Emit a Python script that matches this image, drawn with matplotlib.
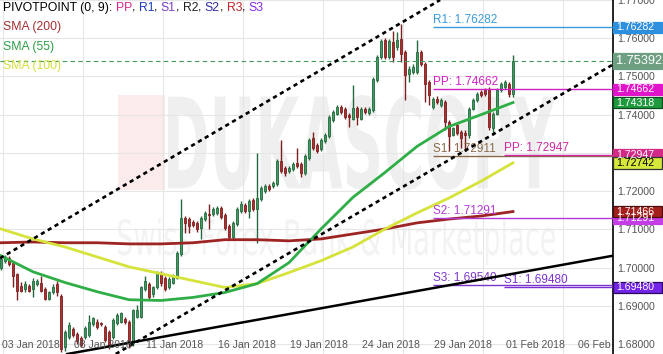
import matplotlib
matplotlib.use("agg")
import matplotlib.pyplot as plt
from matplotlib.transforms import blended_transform_factory, Affine2D, IdentityTransform
from matplotlib.textpath import TextPath
from matplotlib.font_manager import FontProperties
from matplotlib.patches import PathPatch, Rectangle
import numpy as np

plt.rcParams["font.family"] = "Liberation Sans"

# 4h candles, 02 Jan .. 31 Jan 2018
opens = [
    1.7000, 1.7018, 1.7026, 1.7013, 1.6982, 1.6953, 1.6943, 1.6953, 1.6943, 1.6958,
    1.6961, 1.6945, 1.6919, 1.6935, 1.6956, 1.6927, 1.6792, 1.6818, 1.6839, 1.6826,
    1.6815, 1.6818, 1.6823, 1.6852, 1.6859, 1.6854, 1.6844, 1.6831, 1.6818, 1.6854,
    1.6859, 1.6865, 1.6857, 1.6802, 1.6872, 1.6872, 1.6945, 1.6958, 1.6930, 1.6948,
    1.6987, 1.6974, 1.6948, 1.6961, 1.6974, 1.7036, 1.7130, 1.7127, 1.7119, 1.7117,
    1.7104, 1.7127, 1.7140, 1.7140, 1.7143, 1.7156, 1.7138, 1.7109, 1.7080, 1.7114,
    1.7148, 1.7164, 1.7148, 1.7177, 1.7153, 1.7179, 1.7200, 1.7213, 1.7213, 1.7218,
    1.7278, 1.7260, 1.7252, 1.7257, 1.7273, 1.7270, 1.7247, 1.7286, 1.7338, 1.7322,
    1.7309, 1.7330, 1.7343, 1.7387, 1.7403, 1.7421, 1.7416, 1.7400, 1.7390, 1.7418,
    1.7390, 1.7416, 1.7405, 1.7413, 1.7491, 1.7551, 1.7595, 1.7551, 1.7590, 1.7577,
    1.7598, 1.7564, 1.7507, 1.7512, 1.7512, 1.7564, 1.7533, 1.7486, 1.7421, 1.7442,
    1.7426, 1.7434, 1.7382, 1.7348, 1.7372, 1.7356, 1.7353, 1.7346, 1.7416, 1.7439,
    1.7460, 1.7465, 1.7468, 1.7364, 1.7403, 1.7465, 1.7473, 1.7481, 1.7455]
highs = [
    1.7031, 1.7034, 1.7031, 1.7018, 1.6987, 1.6963, 1.6966, 1.6958, 1.6974, 1.6971,
    1.6979, 1.6950, 1.6940, 1.6956, 1.6966, 1.6932, 1.6836, 1.6859, 1.6844, 1.6831,
    1.6820, 1.6846, 1.6875, 1.6872, 1.6865, 1.6859, 1.6849, 1.6836, 1.6867, 1.6880,
    1.6885, 1.6870, 1.6862, 1.6893, 1.6901, 1.6953, 1.6979, 1.6963, 1.6953, 1.6992,
    1.6992, 1.6979, 1.6976, 1.6984, 1.7044, 1.7179, 1.7135, 1.7132, 1.7125, 1.7122,
    1.7135, 1.7148, 1.7166, 1.7158, 1.7161, 1.7161, 1.7143, 1.7114, 1.7122, 1.7158,
    1.7174, 1.7169, 1.7179, 1.7182, 1.7299, 1.7213, 1.7218, 1.7218, 1.7226, 1.7283,
    1.7335, 1.7265, 1.7265, 1.7275, 1.7312, 1.7275, 1.7296, 1.7340, 1.7356, 1.7327,
    1.7340, 1.7353, 1.7400, 1.7413, 1.7426, 1.7426, 1.7421, 1.7405, 1.7478, 1.7424,
    1.7421, 1.7421, 1.7421, 1.7499, 1.7556, 1.7598, 1.7600, 1.7598, 1.7619, 1.7616,
    1.7637, 1.7569, 1.7528, 1.7533, 1.7595, 1.7569, 1.7538, 1.7491, 1.7447, 1.7450,
    1.7444, 1.7439, 1.7387, 1.7369, 1.7377, 1.7361, 1.7359, 1.7421, 1.7444, 1.7460,
    1.7465, 1.7470, 1.7473, 1.7408, 1.7470, 1.7486, 1.7491, 1.7486, 1.7556]
lows = [
    1.6995, 1.7013, 1.7005, 1.6948, 1.6914, 1.6935, 1.6937, 1.6935, 1.6922, 1.6953,
    1.6935, 1.6914, 1.6914, 1.6930, 1.6927, 1.6779, 1.6781, 1.6813, 1.6818, 1.6800,
    1.6792, 1.6813, 1.6818, 1.6846, 1.6839, 1.6846, 1.6805, 1.6787, 1.6813, 1.6849,
    1.6854, 1.6852, 1.6789, 1.6794, 1.6867, 1.6867, 1.6940, 1.6914, 1.6924, 1.6943,
    1.6953, 1.6940, 1.6943, 1.6956, 1.6969, 1.7031, 1.7091, 1.7091, 1.7106, 1.7093,
    1.7075, 1.7122, 1.7101, 1.7135, 1.7138, 1.7127, 1.7099, 1.7075, 1.7075, 1.7109,
    1.7143, 1.7143, 1.7130, 1.7148, 1.7065, 1.7174, 1.7195, 1.7200, 1.7208, 1.7213,
    1.7247, 1.7239, 1.7247, 1.7252, 1.7260, 1.7236, 1.7242, 1.7281, 1.7307, 1.7299,
    1.7304, 1.7325, 1.7338, 1.7382, 1.7398, 1.7403, 1.7390, 1.7369, 1.7385, 1.7374,
    1.7385, 1.7403, 1.7400, 1.7408, 1.7486, 1.7546, 1.7546, 1.7546, 1.7538, 1.7569,
    1.7538, 1.7439, 1.7486, 1.7507, 1.7507, 1.7528, 1.7434, 1.7426, 1.7416, 1.7429,
    1.7421, 1.7361, 1.7304, 1.7343, 1.7348, 1.7312, 1.7304, 1.7340, 1.7411, 1.7434,
    1.7447, 1.7450, 1.7361, 1.7348, 1.7398, 1.7460, 1.7468, 1.7447, 1.7447]
closes = [
    1.7023, 1.7028, 1.7010, 1.6979, 1.6940, 1.6940, 1.6958, 1.6940, 1.6966, 1.6966,
    1.6940, 1.6919, 1.6935, 1.6950, 1.6935, 1.6787, 1.6831, 1.6849, 1.6823, 1.6807,
    1.6797, 1.6841, 1.6857, 1.6867, 1.6844, 1.6852, 1.6810, 1.6797, 1.6862, 1.6875,
    1.6880, 1.6857, 1.6802, 1.6888, 1.6888, 1.6948, 1.6966, 1.6922, 1.6948, 1.6987,
    1.6961, 1.6945, 1.6971, 1.6979, 1.7039, 1.7130, 1.7117, 1.7109, 1.7112, 1.7101,
    1.7130, 1.7143, 1.7138, 1.7153, 1.7156, 1.7132, 1.7104, 1.7080, 1.7117, 1.7153,
    1.7166, 1.7148, 1.7174, 1.7153, 1.7182, 1.7208, 1.7213, 1.7205, 1.7221, 1.7278,
    1.7252, 1.7247, 1.7260, 1.7270, 1.7265, 1.7247, 1.7291, 1.7335, 1.7312, 1.7304,
    1.7335, 1.7348, 1.7395, 1.7408, 1.7421, 1.7408, 1.7395, 1.7395, 1.7418, 1.7395,
    1.7416, 1.7408, 1.7416, 1.7494, 1.7551, 1.7593, 1.7551, 1.7593, 1.7551, 1.7595,
    1.7559, 1.7504, 1.7520, 1.7525, 1.7564, 1.7533, 1.7481, 1.7452, 1.7442, 1.7434,
    1.7439, 1.7382, 1.7343, 1.7364, 1.7353, 1.7340, 1.7346, 1.7416, 1.7439, 1.7455,
    1.7452, 1.7455, 1.7369, 1.7403, 1.7465, 1.7481, 1.7486, 1.7455, 1.75392]

# moving averages read every 8 candles
ma_x = list(range(0, 129, 8))
sma200 = [1.7065, 1.7067, 1.7065, 1.7065, 1.7062, 1.7062, 1.7065, 1.7073, 1.7073,
          1.7070, 1.7075, 1.7088, 1.7101, 1.7117, 1.7127, 1.7135, 1.71466]
sma55 = [1.7031, 1.6989, 1.6961, 1.6937, 1.6916, 1.6914, 1.6922, 1.6935, 1.6958,
         1.7013, 1.7101, 1.7184, 1.7249, 1.7317, 1.7369, 1.7400, 1.74318]
sma100 = [1.7101, 1.7075, 1.7054, 1.7028, 1.7002, 1.6984, 1.6966, 1.6948, 1.6958,
          1.6987, 1.7018, 1.7054, 1.7101, 1.7143, 1.7182, 1.7226, 1.72742]

# trend lines, two anchor points each (candle index, price)
upper_channel = [(0, 1.7026), (100, 1.7640)]
lower_channel = [(30, 1.6782), (128, 1.7379)]
support_line = [(33, 1.6805), (128, 1.6984)]

pivots_a_start = 108
pivots_a = [("R1", 1.76282, "#3b9bd8"), ("PP", 1.74662, "#d11fc4"),
            ("S1", 1.72911, "#8a6a48"), ("S2", 1.71291, "#b23ad4"),
            ("S3", 1.69540, "#7a36c8")]
pivots_b_start = 125.75
pivots_b = [("PP", 1.72947, "#cf2aa4"), ("S1", 1.69480, "#7b30d6")]

last_price = 1.75392
price_ticks = [1.68, 1.69, 1.70, 1.71, 1.72, 1.73, 1.74, 1.75, 1.76, 1.77]
date_labels = ["03 Jan 2018", "08 Jan 2018", "11 Jan 2018", "16 Jan 2018",
               "19 Jan 2018", "24 Jan 2018", "29 Jan 2018", "01 Feb 2018",
               "06 Feb 2018"]
date_pos = [7.5, 25.5, 43.5, 61.5, 79.5, 97.5, 115.5, 133.5, 151.5]
grid_x = [0.5, 20.5, 40.5, 60.5, 80.5, 100.5, 120.5, 140.5]

# price tags on the right axis (drawn in this order): value, fill, text, edge, size
tags = [(1.76282, "#2f8fdf", "white", "#2f8fdf", 7.6),
        (1.75392, "#6f9f82", "white", "#6f9f82", 9.2),
        (1.74662, "#e014c8", "white", "#e014c8", 7.6),
        (1.74318, "#1f9a3e", "white", "#0d4a1c", 7.6),
        (1.72947, "#d22a86", "white", "#d22a86", 7.6),
        (1.72742, "#d6e83c", "black", "#333333", 7.6),
        (1.71291, "#c43ee6", "white", "#c43ee6", 7.6),
        (1.71466, "#a3201d", "white", "#4a0e0c", 7.6),
        (1.69480, "#7424e6", "white", "#2a0a60", 7.6)]

W, H = 663, 354
fig = plt.figure(figsize=(W / 100, H / 100), dpi=100)
fig.patch.set_facecolor("white")
ax = fig.add_axes([0, 0, 613 / W, 1])
ax.set_xlim(-0.25, 153.0)
ax.set_ylim(1.67740, 1.76935)

for s in ["top", "left", "bottom"]:
    ax.spines[s].set_visible(False)
ax.spines["right"].set_color("black")
ax.spines["right"].set_linewidth(1.2)

ax.yaxis.tick_right()
ax.set_yticks(price_ticks)
ax.set_yticklabels(["%.5f" % v for v in price_ticks])
ax.tick_params(axis="y", length=0, pad=3, labelsize=7.6, labelcolor="#555555")
ax.set_xticks(grid_x)
ax.set_xticklabels([])
ax.tick_params(axis="x", length=0)
ax.set_axisbelow(True)
ax.grid(True, color="#e6e6e6", linewidth=0.8)

# faint watermark
def stamp(text, x0, y0, x1, y1, color, weight):
    tp = TextPath((0, 0), text, size=100,
                  prop=FontProperties(family="DejaVu Sans", weight=weight))
    e = tp.get_extents()
    tr = (Affine2D().translate(-e.x0, -e.y0)
          .scale((x1 - x0) / e.width, (y1 - y0) / e.height)
          .translate(x0, H - y1))
    ax.add_patch(PathPatch(tr.transform_path(tp), fc=color, ec="none",
                           transform=IdentityTransform(), zorder=0.3))

ax.add_patch(Rectangle((118, H - 190), 47, 95, fc="#fcebeb", ec="none",
                       transform=IdentityTransform(), zorder=0.3))
stamp("DUKASCOPY", 168, 95, 555, 190, "#efefef", "bold")
stamp("Swiss Forex Bank & Marketplace", 118, 218, 555, 265, "#f3f3f3", "normal")

# candles
x = np.arange(len(closes))
o = np.array(opens)
c = np.array(closes)
up = c >= o
fill = np.where(up, "#3f9d63", "#b03030")
edge = np.where(up, "#23693d", "#7d1f1f")
ax.vlines(x, lows, highs, colors=edge, linewidth=1.0, zorder=2)
body = np.where(np.abs(c - o) < 0.00008, 0.00008, c - o)
ax.bar(x, body, bottom=o, width=0.62, color=fill, edgecolor=edge,
       linewidth=0.6, zorder=2.1)

# moving averages
ax.plot(ma_x, sma200, color="#9e2424", linewidth=2.0, zorder=3)
ax.plot(ma_x, sma100, color="#d5e33a", linewidth=2.0, zorder=3)
ax.plot(ma_x, sma55, color="#2fae48", linewidth=2.0, zorder=3)

# trend lines
ax.axline(*upper_channel, color="black", linewidth=1.9,
          linestyle=(0, (1.6, 1.4)), zorder=3.5)
ax.axline(*lower_channel, color="black", linewidth=1.9,
          linestyle=(0, (1.6, 1.4)), zorder=3.5)
ax.axline(*support_line, color="black", linewidth=1.8, zorder=3.5)

# current price
ax.axhline(last_price, color="#3f9a5c", linewidth=0.8,
           linestyle=(0, (4, 3)), zorder=3)

# pivot levels
xmax = ax.get_xlim()[1]
for start, levels in [(pivots_a_start, pivots_a), (pivots_b_start, pivots_b)]:
    for name, val, col in levels:
        ax.hlines(val, start, xmax, colors=col, linewidth=1.0, zorder=3.2)
        ax.annotate("%s: %.5f" % (name, val), (start, val), xytext=(0, 0.8),
                    textcoords="offset points", ha="left", va="bottom",
                    color=col, fontsize=8.5, zorder=3.3)

# date labels, clipped at the price axis
bt = blended_transform_factory(ax.transData, ax.transAxes)
for pos, lab in zip(date_pos, date_labels):
    ax.text(pos, 9 / H, lab, transform=bt, ha="center", va="center",
            fontsize=7.6, color="#555555", clip_on=True, zorder=4)

# right-hand price tags
for val, fc, tc, ec, fs in tags:
    yd = ax.transData.transform((0, val))[1]
    h = 16 if fs > 8 else 11.5
    fig.patches.append(Rectangle((613, yd - h / 2), 49, h, fc=fc, ec=ec,
                                 linewidth=0.9, transform=IdentityTransform(),
                                 zorder=1))
    fig.text(616, yd, "%.5f" % val, color=tc, fontsize=fs, ha="left",
             va="center", transform=IdentityTransform(), zorder=2)

# legend text, top-left
fig.canvas.draw()
rend = fig.canvas.get_renderer()

def write_line(pieces, ypix):
    xp = 3
    for s, col in pieces:
        t = fig.text(xp, H - ypix, s, color=col, fontsize=8.8, ha="left",
                     va="center", transform=IdentityTransform(), zorder=3)
        xp += t.get_window_extent(rend).width

k = "black"
write_line([("PIVOTPOINT (0, 9): ", k), ("PP", "#d6288e"), (", ", k),
            ("R1", "#1d3fba"), (", ", k), ("S1", "#7b3fc6"), (", ", k),
            ("R2", "#222222"), (", ", k), ("S2", "#2b2d9c"), (", ", k),
            ("R3", "#c0282a"), (", ", k), ("S3", "#8a2be2")], 8)
write_line([("SMA (200)", "#a33030")], 27)
write_line([("SMA (55)", "#2e9e47")], 47)
write_line([("SMA (100)", "#d4de3a")], 66)

fig.savefig("out.png", dpi=100)
